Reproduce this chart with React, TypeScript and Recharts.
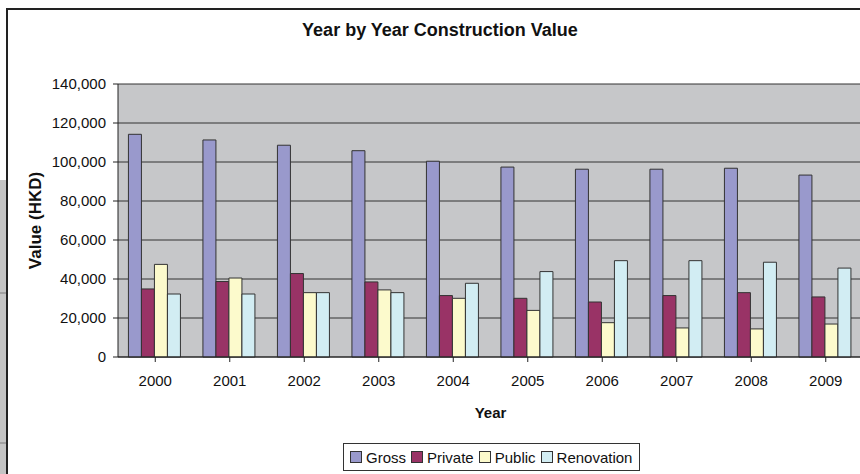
import React from 'react';
import { BarChart, Bar, XAxis, YAxis, CartesianGrid, Legend } from 'recharts';

const years = ['2000', '2001', '2002', '2003', '2004', '2005', '2006', '2007', '2008', '2009'];
const gross = [114200, 111300, 108600, 105800, 100400, 97400, 96300, 96300, 96800, 93300];
const privateVals = [34900, 38700, 42800, 38500, 31500, 30100, 28200, 31500, 33000, 30800];
const publicVals = [47500, 40500, 33000, 34400, 30100, 23900, 17600, 14900, 14400, 16900];
const renovation = [32300, 32300, 33000, 33000, 37800, 43800, 49400, 49400, 48600, 45600];
const yTicks = [0, 20000, 40000, 60000, 80000, 100000, 120000, 140000];

const series = [
  { key: 'Gross', color: '#9999cc' },
  { key: 'Private', color: '#993366' },
  { key: 'Public', color: '#fcfacc' },
  { key: 'Renovation', color: '#d2edf3' },
];

const data = years.map((y, i) => ({
  year: y,
  Gross: gross[i],
  Private: privateVals[i],
  Public: publicVals[i],
  Renovation: renovation[i],
}));

const FONT = 'Arial, "Liberation Sans", sans-serif';

const YLabel = (props: any) => {
  const vb = props.viewBox || {};
  const cy = vb.y + vb.height / 2;
  const cx = 35;
  return (
    <text
      x={cx}
      y={cy}
      transform={`rotate(-90 ${cx} ${cy})`}
      textAnchor="middle"
      dominantBaseline="central"
      fontFamily={FONT}
      fontWeight="bold"
      fontSize={17}
      fill="#111"
    >
      Value (HKD)
    </text>
  );
};

const LegendContent = () => (
  <div
    style={{
      border: '1px solid #333',
      background: '#fff',
      display: 'flex',
      alignItems: 'center',
      height: 28,
      boxSizing: 'border-box',
      padding: '0 2px 0 6px',
      fontFamily: FONT,
      fontSize: 15,
      color: '#111',
      whiteSpace: 'nowrap',
    }}
  >
    {series.map((s) => (
      <span key={s.key} style={{ display: 'inline-flex', alignItems: 'center', marginRight: 5 }}>
        <span
          style={{
            display: 'inline-block',
            width: 10,
            height: 10,
            background: s.color,
            border: '1px solid #333',
            marginRight: 4,
          }}
        />
        {s.key}
      </span>
    ))}
  </div>
);

export default function App() {
  return (
    <div
      style={{
        position: 'fixed',
        left: 0,
        top: 0,
        width: 860,
        height: 474,
        overflow: 'hidden',
        background: '#fff',
        fontFamily: FONT,
      }}
    >
      {/* slide background strip on the left */}
      <div style={{ position: 'absolute', left: 0, top: 180, width: 7, height: 294, background: '#c4c4c4' }} />
      <div style={{ position: 'absolute', left: 0, top: 292, width: 7, height: 2, background: '#a0a0a0' }} />
      <div style={{ position: 'absolute', left: 0, top: 442, width: 7, height: 2, background: '#a0a0a0' }} />
      {/* chart frame */}
      <div
        style={{
          position: 'absolute',
          left: 6,
          top: 8,
          width: 900,
          height: 500,
          borderLeft: '2px solid #222',
          borderTop: '2px solid #222',
          background: '#fff',
        }}
      />
      <div
        style={{
          position: 'absolute',
          left: 0,
          top: 20,
          width: 880,
          textAlign: 'center',
          fontFamily: FONT,
          fontWeight: 'bold',
          fontSize: 18,
          color: '#111',
        }}
      >
        Year by Year Construction Value
      </div>
      <div style={{ position: 'absolute', left: 0, top: 0 }}>
        <BarChart
          width={882}
          height={474}
          data={data}
          margin={{ top: 84, right: 19, bottom: 47, left: 0 }}
          barCategoryGap="14%"
          barGap={0}
        >
          <CartesianGrid
            vertical={false}
            horizontal={true}
            stroke="#333"
            strokeWidth={1}
            fill="#c6c7c9"
          />
          <XAxis
            dataKey="year"
            height={70}
            tickSize={5}
            tickMargin={13}
            axisLine={{ stroke: '#222' }}
            tickLine={{ stroke: '#222' }}
            tick={{ fill: '#111', fontSize: 15, fontFamily: FONT }}
            interval={0}
            label={{
              value: 'Year',
              position: 'insideBottom',
              offset: 9,
              fill: '#111',
              fontSize: 15,
              fontWeight: 'bold',
              fontFamily: FONT,
            }}
          />
          <YAxis
            width={118}
            domain={[0, 140000]}
            ticks={yTicks}
            interval={0}
            tickSize={5}
            tickMargin={7}
            axisLine={{ stroke: '#222' }}
            tickLine={{ stroke: '#222' }}
            tick={{ fill: '#111', fontSize: 15, fontFamily: FONT }}
            tickFormatter={(v: number) => v.toLocaleString('en-US')}
            label={<YLabel />}
          />
          <Legend
            layout="horizontal"
            verticalAlign="middle"
            content={<LegendContent />}
            wrapperStyle={{ top: 443, left: 343, width: 'auto' }}
          />
          {series.map((s) => (
            <Bar
              key={s.key}
              dataKey={s.key}
              fill={s.color}
              stroke="#333"
              strokeWidth={1}
              isAnimationActive={false}
            />
          ))}
        </BarChart>
      </div>
    </div>
  );
}
